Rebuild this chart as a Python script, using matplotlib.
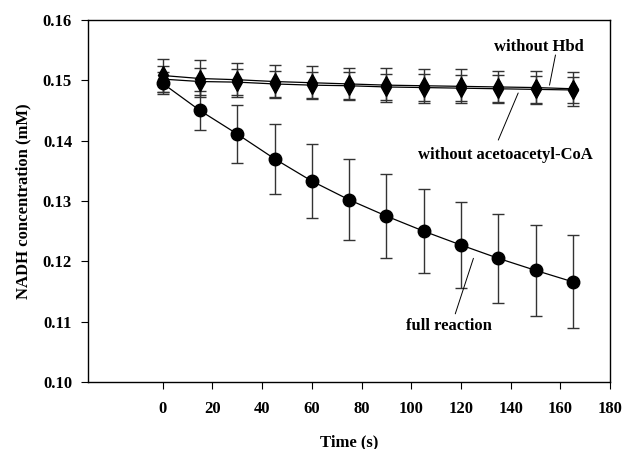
import numpy as np
import matplotlib.pyplot as plt

plt.rcParams['font.family'] = ['Liberation Serif', 'DejaVu Serif']
plt.rcParams['font.weight'] = 'bold'

time_s = [0, 15, 30, 45, 60, 75, 90, 105, 120, 135, 150, 165]

full_reaction = [0.1495, 0.1450, 0.1411, 0.1370, 0.1333, 0.1302, 0.1275,
                 0.1250, 0.1227, 0.1205, 0.1185, 0.1166]
full_err = [0.0018, 0.0032, 0.0048, 0.0058, 0.0062, 0.0067, 0.0069,
            0.0070, 0.0072, 0.0074, 0.0075, 0.0077]

no_hbd = [0.1508, 0.1503, 0.1501, 0.1498, 0.1496, 0.1494, 0.1492,
          0.1491, 0.1490, 0.1489, 0.1488, 0.1486]
no_hbd_err = [0.0027, 0.0030, 0.0028, 0.0027, 0.0027, 0.0027, 0.0028,
              0.0028, 0.0028, 0.0027, 0.0028, 0.0028]

no_acac = [0.1502, 0.1498, 0.1497, 0.1494, 0.1492, 0.1491, 0.1489,
           0.1488, 0.1487, 0.1486, 0.1485, 0.1484]
no_acac_err = [0.0022, 0.0022, 0.0022, 0.0022, 0.0022, 0.0022, 0.0022,
               0.0022, 0.0022, 0.0022, 0.0022, 0.0022]

# label text positions and leader lines (data coordinates)
labels = ['without Hbd', 'without acetoacetyl-CoA', 'full reaction']
label_xy = [(151.5, 0.1555), (138, 0.1376), (115, 0.1093)]
leader_start = [(158, 0.1542), (135, 0.1401), (117.7, 0.1113)]
leader_end = [(155.6, 0.1492), (143, 0.1479), (125, 0.1205)]

fig = plt.figure(figsize=(6.22, 4.49), dpi=100)
ax = fig.add_axes([0.1415, 0.1492, 0.8395, 0.8063])

ebkw = dict(color='black', lw=0.9, elinewidth=1.0, ecolor='#333333',
            capsize=4, capthick=1.0)
ax.errorbar(time_s, no_acac, yerr=no_acac_err, marker='d', ms=9, **ebkw)
ax.errorbar(time_s, no_hbd, yerr=no_hbd_err, marker='d', ms=9, **ebkw)
ax.errorbar(time_s, full_reaction, yerr=full_err, marker='o', ms=9, **ebkw)

ax.set_xlim(-30, 180)
ax.set_ylim(0.10, 0.16)
ax.set_xticks(np.arange(0, 181, 20))
ax.set_yticks(np.arange(0.10, 0.161, 0.01))
ax.yaxis.set_major_formatter(plt.FormatStrFormatter('%.2f'))
ax.tick_params(direction='out', length=5, labelsize=12)
ax.tick_params(axis='x', pad=9)
ax.tick_params(axis='y', pad=6.5)
for lab in ax.get_xticklabels() + ax.get_yticklabels():
    lab.set_fontweight('bold')
for sp in ax.spines.values():
    sp.set_linewidth(1.0)

ax.set_xlabel('Time (s)', fontsize=12, fontweight='bold', labelpad=12)
ax.set_ylabel('NADH concentration (mM)', fontsize=12, fontweight='bold', labelpad=8)

for txt, txy, p0, p1 in zip(labels, label_xy, leader_start, leader_end):
    ax.text(txy[0], txy[1], txt, ha='center', va='center', fontsize=12,
            fontweight='bold')
    ax.annotate('', xy=p1, xytext=p0,
                arrowprops=dict(arrowstyle='-', color='black', lw=0.7,
                                shrinkA=0, shrinkB=0))

fig.savefig('out.png', dpi=100)
